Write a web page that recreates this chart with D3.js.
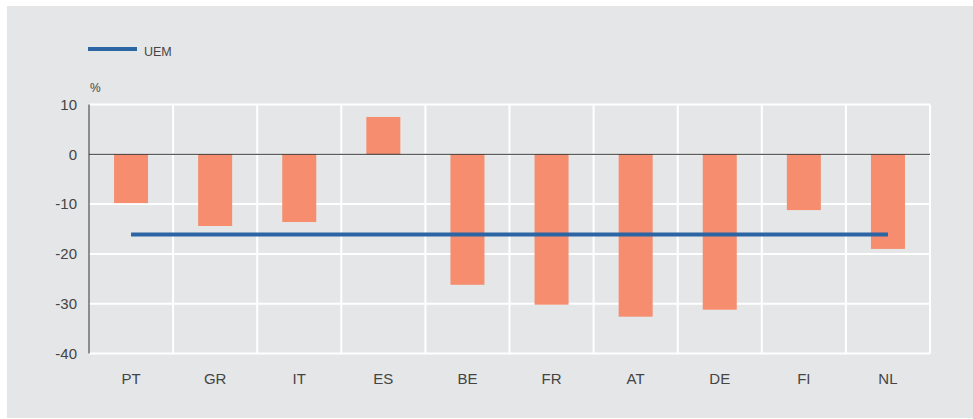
<!DOCTYPE html>
<html>
<head>
<meta charset="utf-8">
<script src="https://cdn.jsdelivr.net/npm/d3@7"></script>
<style>
  body { margin: 0; background: #fff; }
  svg { display: block; font-family: "Liberation Sans", Arial, sans-serif; }
</style>
</head>
<body>
<div id="chart"></div>
<script>
// data
var countries = ['PT', 'GR', 'IT', 'ES', 'BE', 'FR', 'AT', 'DE', 'FI', 'NL'];
var values = [-9.8, -14.4, -13.6, 7.5, -26.2, -30.2, -32.6, -31.2, -11.2, -19.0];
var uemValue = -16.1;
var yTicks = [10, 0, -10, -20, -30, -40];

document.addEventListener('DOMContentLoaded', function () {
    var width = 973, height = 419;
    var margin = {top: 104.5, left: 89, right: 43, bottom: 65.5};
    var innerW = width - margin.left - margin.right;
    var innerH = height - margin.top - margin.bottom;

    var svg = d3.select('#chart').append('svg')
        .attr('width', width)
        .attr('height', height);

    // grey panel
    svg.append('rect')
        .attr('x', 7).attr('y', 6)
        .attr('width', width - 7).attr('height', 412)
        .attr('fill', '#e5e6e8');

    var x = d3.scaleBand().domain(countries).range([0, innerW]).paddingInner(0).paddingOuter(0);
    var y = d3.scaleLinear().domain([-40, 10]).range([innerH, 0]);

    var g = svg.append('g').attr('transform', 'translate(' + margin.left + ',' + margin.top + ')');

    // horizontal grid
    g.selectAll('.hgrid')
        .data(yTicks)
        .enter()
        .append('line')
        .attr('x1', 0).attr('x2', innerW)
        .attr('y1', function (d) { return y(d); })
        .attr('y2', function (d) { return y(d); })
        .style('stroke', '#fff')
        .style('stroke-width', 2);

    // vertical grid between categories + right edge
    var bounds = countries.map(function (c) { return x(c) + x.bandwidth(); });
    g.selectAll('.vgrid')
        .data(bounds)
        .enter()
        .append('line')
        .attr('x1', function (d) { return d; })
        .attr('x2', function (d) { return d; })
        .attr('y1', y(10)).attr('y2', y(-40))
        .style('stroke', '#fff')
        .style('stroke-width', 2);

    // bars
    var barW = 34;
    g.selectAll('.bar')
        .data(values)
        .enter()
        .append('rect')
        .attr('x', function (d, i) { return x(countries[i]) + x.bandwidth() / 2 - barW / 2; })
        .attr('y', function (d) { return y(Math.max(0, d)); })
        .attr('width', barW)
        .attr('height', function (d) { return Math.abs(y(d) - y(0)); })
        .style('fill', '#f58d6e');

    // zero line
    g.append('line')
        .attr('x1', 0).attr('x2', innerW)
        .attr('y1', y(0)).attr('y2', y(0))
        .style('stroke', '#333')
        .style('stroke-width', 1);

    // y axis line
    g.append('line')
        .attr('x1', 0).attr('x2', 0)
        .attr('y1', y(10)).attr('y2', y(-40))
        .style('stroke', '#333')
        .style('stroke-width', 1);

    // UEM line
    g.append('line')
        .attr('x1', x(countries[0]) + x.bandwidth() / 2)
        .attr('x2', x(countries[countries.length - 1]) + x.bandwidth() / 2)
        .attr('y1', y(uemValue)).attr('y2', y(uemValue))
        .style('stroke', '#2c65a3')
        .style('stroke-width', 4);

    // y tick labels
    g.selectAll('.ylab')
        .data(yTicks)
        .enter()
        .append('text')
        .attr('x', -12)
        .attr('y', function (d) { return y(d); })
        .attr('dy', '0.35em')
        .attr('text-anchor', 'end')
        .style('font-size', '15px')
        .style('fill', '#444')
        .text(function (d) { return d; });

    // x labels
    g.selectAll('.xlab')
        .data(countries)
        .enter()
        .append('text')
        .attr('x', function (d) { return x(d) + x.bandwidth() / 2; })
        .attr('y', innerH + 30)
        .attr('text-anchor', 'middle')
        .style('font-size', '15px')
        .style('fill', '#444')
        .text(function (d) { return d; });

    // unit
    svg.append('text')
        .attr('x', 90).attr('y', 92)
        .style('font-size', '12px')
        .style('fill', '#444')
        .text('%');

    // legend
    svg.append('line')
        .attr('x1', 88).attr('x2', 137)
        .attr('y1', 49).attr('y2', 49)
        .style('stroke', '#2c65a3')
        .style('stroke-width', 4);
    svg.append('text')
        .attr('x', 144).attr('y', 56)
        .style('font-size', '12.5px')
        .style('fill', '#444')
        .text('UEM');
});
</script>
</body>
</html>
